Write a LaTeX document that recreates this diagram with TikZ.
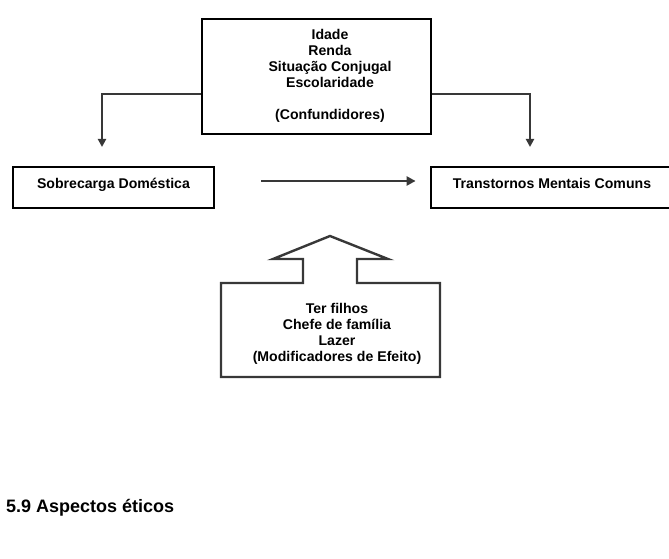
\documentclass[tikz,border=0pt]{standalone}
\usepackage{fontspec}
\setmainfont{Liberation Sans}
\usetikzlibrary{arrows.meta,calc}
\definecolor{linegray}{HTML}{383838}
\begin{document}
\begin{tikzpicture}[x=1pt,y=-1pt,
        txt/.style={font=\fontsize{14.1}{16}\selectfont\bfseries,align=center,inner sep=0pt},
        box/.style={draw=black,line width=2.8pt,inner sep=0pt},
        conn/.style={draw=linegray,line width=2.3pt,-{Triangle[length=8pt,width=8pt]}}]
        \useasboundingbox (0,0) rectangle (669,559);
        \clip (0,0) rectangle (669,559);
        \node[box,minimum width=229,minimum height=115] (conf) at (316.5,76.5) {};
        \node[txt] (conflab) at (330,76) {Idade\\Renda\\Situação Conjugal\\Escolaridade\\[16pt](Confundidores)};
        \node[box,txt,minimum width=201,minimum height=41,text height=10pt,text depth=9pt] (sobre) at (113.5,187.5) {Sobrecarga Doméstica};
        \node[box,txt,minimum width=242,minimum height=41,text height=10pt,text depth=9pt] (tmc) at (552,187.5) {Transtornos Mentais Comuns};
        \coordinate (sobretop) at (102,147);
        \coordinate (tmctop) at (530,147);
        \draw[conn] ([yshift=-17.5pt]conf.west) -| (sobretop);
        \draw[conn] ([yshift=-17.5pt]conf.east) -| (tmctop);
        \draw[conn,-{Triangle[length=9pt,width=9pt]}] ($(sobre.east)+(46,-6.5)$) -- ($(tmc.west)+(-14,-6.5)$);
        \draw[linegray,line width=2.4pt] (221,283) -- (303,283) -- (303,259) -- (273,259) -- (330,236) -- (388,259) -- (357,259) -- (357,283) -- (440,283) -- (440,377) -- (221,377) -- cycle;
        \node[txt] (modif) at (337,334) {Ter filhos\\Chefe de família\\Lazer\\(Modificadores de Efeito)};
        \node[font=\fontsize{18}{21}\selectfont\bfseries,anchor=base west,inner sep=0pt] (secao) at (6,512) {5.9 Aspectos éticos};
    \end{tikzpicture}
\end{document}
